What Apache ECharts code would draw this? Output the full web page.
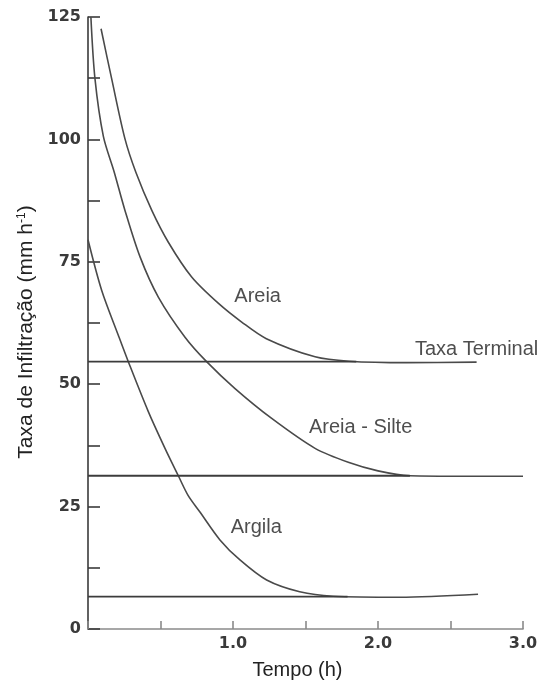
<!DOCTYPE html>
<html>
<head>
<meta charset="utf-8">
<title>Taxa de Infiltração</title>
<script src="https://cdn.jsdelivr.net/npm/echarts@6/dist/echarts.min.js"></script>
<style>
    html, body { margin: 0; padding: 0; background: #fff; }
    #infiltChart { width: 540px; height: 682px; }
</style>
</head>
<body>
<div id="infiltChart"></div>
<script>
// curvas: tempo (h) e taxa (mm h-1)
var tempoAreia = [0.09, 0.163, 0.255, 0.33, 0.44, 0.554, 0.715, 0.9, 1.06, 1.23, 1.566, 1.8, 2.2, 2.68];
var taxaAreia  = [122.6, 112.4, 100.1, 93.3, 85.5, 79.0, 71.9, 66.5, 62.7, 59.3, 55.6, 54.7, 54.4, 54.5];

var tempoSilte = [0.02, 0.048, 0.106, 0.18, 0.255, 0.359, 0.485, 0.669, 0.818, 1.014, 1.267, 1.566, 1.8, 2.0, 2.22, 2.6, 3.0];
var taxaSilte  = [125, 112.4, 100.6, 93.4, 85.5, 76.0, 67.8, 59.6, 54.6, 49.1, 43.0, 36.9, 34.0, 32.3, 31.3, 31.2, 31.2];

var tempoArgila = [0, 0.094, 0.209, 0.278, 0.416, 0.531, 0.623, 0.69, 0.772, 0.91, 1.048, 1.232, 1.46, 1.69, 2.15, 2.69];
var taxaArgila  = [79.5, 69.2, 60.0, 54.6, 44.4, 36.9, 31.3, 27.3, 23.9, 18.2, 14.1, 10.0, 7.6, 6.7, 6.5, 7.1];

// linhas horizontais (taxa terminal de cada solo)
var taxaTerminal = [54.6, 31.3, 6.6];
var fimTerminal  = [1.85, 2.22, 1.79];

// rótulos
var rotulos  = ['Areia', 'Taxa Terminal', 'Areia - Silte', 'Argila'];
var rotuloX  = [1.17, 2.68, 1.88, 1.16];
var rotuloY  = [68.0, 57.1, 41.2, 20.8];

function pares(xs, ys) {
    var out = [];
    for (var i = 0; i < xs.length; i++) out.push([xs[i], ys[i]]);
    return out;
}

var corLinha = '#4a4a4a';

var myChart = echarts.init(document.getElementById('infiltChart'));

var series = [];
[[tempoAreia, taxaAreia], [tempoSilte, taxaSilte], [tempoArgila, taxaArgila]].forEach(function (c) {
    series.push({
        type: 'line',
        data: pares(c[0], c[1]),
        showSymbol: false,
        smooth: 0.3,
        lineStyle: { color: corLinha, width: 1.6 },
        silent: true
    });
});
taxaTerminal.forEach(function (t, i) {
    series.push({
        type: 'line',
        data: [[0, t], [fimTerminal[i], t]],
        showSymbol: false,
        lineStyle: { color: '#3c3c3c', width: 1.8 },
        silent: true
    });
});
series.push({
    type: 'scatter',
    symbolSize: 0,
    data: rotulos.map(function (n, i) { return { value: [rotuloX[i], rotuloY[i]], name: n }; }),
    label: {
        show: true,
        position: 'inside',
        formatter: '{b}',
        color: '#222',
        fontSize: 20,
        fontFamily: 'Liberation Sans, Arial, sans-serif'
    },
    silent: true
});

var option = {
    animation: false,
    grid: { left: 88, right: 17, top: 17, bottom: 53, outerBoundsMode: 'none' },
    xAxis: {
        type: 'value',
        min: 0,
        max: 3,
        interval: 0.5,
        name: 'Tempo (h)',
        nameLocation: 'middle',
        nameGap: 31,
        nameTextStyle: {
            color: '#222',
            fontSize: 20,
            fontFamily: 'Liberation Sans, Arial, sans-serif',
            padding: [0, 16, 0, 0]
        },
        axisLine: { lineStyle: { color: '#8a8a8a', width: 1.6 } },
        axisTick: { inside: true, length: 8, lineStyle: { color: '#8a8a8a', width: 1.6 } },
        axisLabel: {
            margin: 7,
            color: '#3a3a3a',
            fontSize: 16,
            fontWeight: 'bold',
            fontFamily: 'DejaVu Sans, sans-serif',
            formatter: function (v) { return (v > 0 && v % 1 === 0) ? v.toFixed(1) : ''; }
        },
        splitLine: { show: false }
    },
    yAxis: {
        type: 'value',
        min: 0,
        max: 125,
        interval: 12.5,
        name: 'Taxa de Infiltração (mm h{sup|-1})',
        nameLocation: 'middle',
        nameRotate: 90,
        nameGap: 50,
        nameTextStyle: {
            color: '#222',
            fontSize: 21,
            fontFamily: 'Liberation Sans, Arial, sans-serif',
            padding: [0, 18, 0, 0],
            rich: {
                sup: { fontSize: 12, verticalAlign: 'top', color: '#222', fontFamily: 'Liberation Sans, Arial, sans-serif', padding: [0, 0, 8, 0] }
            }
        },
        axisLine: { show: true, lineStyle: { color: '#3a3a3a', width: 1.6 } },
        axisTick: { show: true, inside: true, length: 12, lineStyle: { color: '#3a3a3a', width: 1.6 } },
        axisLabel: {
            margin: 7,
            color: '#3a3a3a',
            fontSize: 16,
            fontWeight: 'bold',
            fontFamily: 'DejaVu Sans, sans-serif',
            formatter: function (v) { return v % 25 === 0 ? String(v) : ''; }
        },
        splitLine: { show: false }
    },
    series: series
};

myChart.setOption(option);

window.addEventListener('resize', function () {
    myChart.resize();
});
</script>
</body>
</html>
